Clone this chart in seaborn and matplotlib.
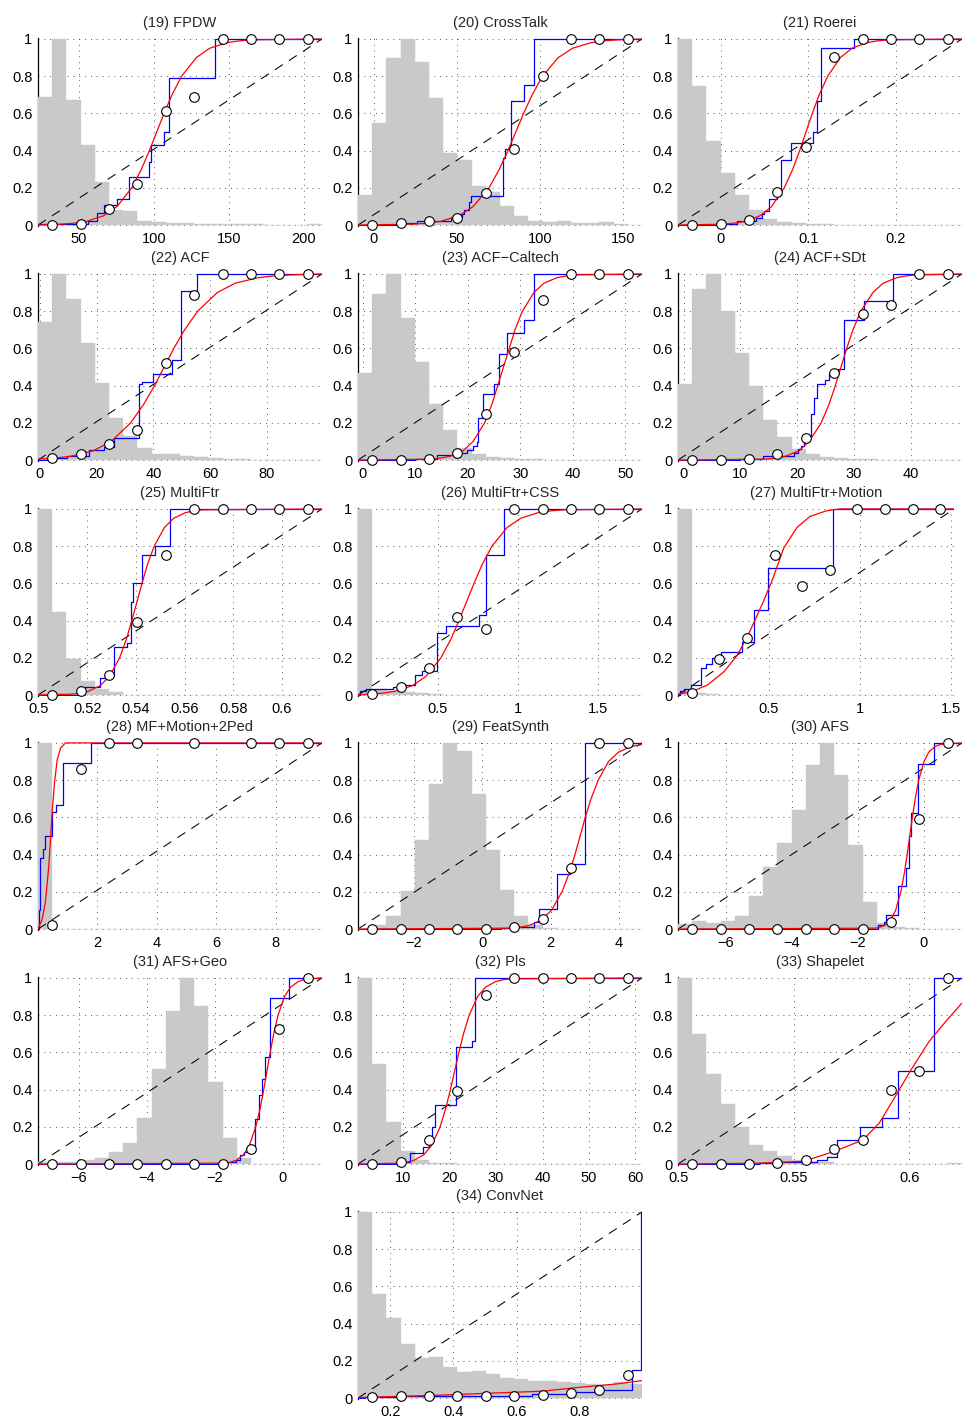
import numpy as np
import pandas as pd
import matplotlib
matplotlib.use("Agg")
import matplotlib.pyplot as plt
import seaborn as sns

# ---------------------------------------------------------------- data
# Levels at which the fitted (red) curve positions are listed.
FIT_LEVELS = [0.0, 0.005, 0.01, 0.02, 0.05, 0.1, 0.2, 0.3, 0.4, 0.5,
              0.6, 0.7, 0.8, 0.9, 0.95, 0.98, 0.99, 0.995, 1.0]

# (19) FPDW
range_19 = [23.0, 212.0]
ticks_19 = [50, 100, 150, 200]
hist_19 = [0.69, 1.0, 0.67, 0.43, 0.23, 0.08, 0.075, 0.02, 0.015, 0.012,
           0.01, 0.008, 0.006, 0.005, 0.004, 0.004, 0.003, 0.003, 0.002, 0.008]
calib_19 = [0.0, 0.005, 0.085, 0.22, 0.615, 0.69, 1.0, 1.0, 1.0, 1.0]
ecdf_x_19 = [23, 56, 62.2, 67.1, 75.6, 83.6, 97.1, 98.4, 106.7, 110, 140.7, 212]
ecdf_y_19 = [0.005, 0.02, 0.065, 0.11, 0.14, 0.26, 0.34, 0.43, 0.5, 0.79, 1.0, 1.0]
fit_x_19 = [23, 38.5, 46.8, 55.3, 66.7, 75.6, 85.4, 91.8, 97.1, 102, 106.9,
            112.2, 118.6, 128.4, 137.3, 148.7, 157.2, 165.5, 212]

# (20) CrossTalk
range_20 = [-9.5, 161.5]
ticks_20 = [0, 50, 100, 150]
hist_20 = [0.16, 0.55, 0.9, 1.0, 0.875, 0.68, 0.385, 0.35, 0.21, 0.18,
           0.1, 0.05, 0.02, 0.015, 0.02, 0.01, 0.01, 0.015, 0.005, 0.003]
calib_20 = [0.0, 0.01, 0.02, 0.04, 0.17, 0.41, 0.8, 1.0, 1.0, 1.0]
ecdf_x_20 = [-9.5, 16, 26.1, 46.2, 53.2, 54.2, 57.2, 58.6, 77.9, 78.9, 82.7, 90.4, 96.4, 161.5]
ecdf_y_20 = [0.0, 0.01, 0.02, 0.045, 0.06, 0.08, 0.125, 0.155, 0.36, 0.41, 0.665, 0.75, 1.0, 1.0]
fit_x_20 = [-9.5, 23.9, 32.0, 40.2, 51.3, 59.9, 69.4, 75.6, 80.8, 85.5, 90.2,
            95.4, 101.6, 111.1, 119.7, 130.8, 139.0, 147.1, 161.5]

# (21) Roerei
range_21 = [-0.0486, 0.2756]
ticks_21 = [0, 0.1, 0.2]
hist_21 = [1.0, 0.745, 0.45, 0.28, 0.16, 0.08, 0.035, 0.015, 0.01, 0.005,
           0.008, 0.003, 0.002, 0.002, 0.002, 0.002, 0.002, 0.002, 0.002, 0.002]
calib_21 = [0.0, 0.005, 0.025, 0.18, 0.42, 0.905, 1.0, 1.0, 1.0, 1.0]
ecdf_x_21 = [-0.0486, 0.0, 0.019, 0.04, 0.0476, 0.0495, 0.0552, 0.0648, 0.0686,
             0.08, 0.1055, 0.1105, 0.1143, 0.1524, 0.2756]
ecdf_y_21 = [0.0, 0.005, 0.02, 0.04, 0.06, 0.075, 0.14, 0.16, 0.35, 0.44, 0.5,
             0.665, 0.95, 1.0, 1.0]
fit_x_21 = [-0.0486, 0.003, 0.0153, 0.028, 0.045, 0.0582, 0.0727, 0.0824, 0.0903,
            0.0975, 0.1047, 0.1126, 0.1223, 0.1368, 0.15, 0.167, 0.1797, 0.192, 0.2756]

# (22) ACF
range_22 = [-0.65, 99.4]
ticks_22 = [0, 20, 40, 60, 80]
hist_22 = [0.74, 1.0, 0.865, 0.63, 0.415, 0.225, 0.13, 0.065, 0.03, 0.035,
           0.02, 0.015, 0.01, 0.008, 0.005, 0.003, 0.003, 0.003, 0.003, 0.003]
calib_22 = [0.01, 0.035, 0.085, 0.16, 0.52, 0.885, 1.0, 1.0, 1.0, 1.0]
ecdf_x_22 = [-0.65, 3.8, 9.6, 17.3, 22.6, 26.1, 34.9, 36.1, 40.0, 46.4, 49.6, 55.5, 99.4]
ecdf_y_22 = [0.0, 0.01, 0.02, 0.055, 0.07, 0.12, 0.41, 0.42, 0.465, 0.54, 0.91, 1.0, 1.0]
fit_x_22 = [-1.5, -1.2, 4.7, 10.7, 18.8, 25.1, 32.0, 36.6, 40.4, 43.8, 47.2,
            51.0, 55.6, 62.5, 68.8, 76.9, 82.9, 88.8, 99.4]

# (23) ACF-Caltech
range_23 = [-0.93, 53.2]
ticks_23 = [0, 10, 20, 30, 40, 50]
hist_23 = [0.47, 0.89, 1.0, 0.765, 0.525, 0.3, 0.16, 0.065, 0.03, 0.015,
           0.01, 0.008, 0.005, 0.003, 0.003, 0.003, 0.003, 0.003, 0.003, 0.003]
calib_23 = [0.0, 0.0, 0.005, 0.04, 0.245, 0.58, 0.86, 1.0, 1.0, 1.0]
ecdf_x_23 = [-0.93, 10.0, 14.2, 18.3, 19.9, 20.9, 21.8, 22.0, 22.9, 25.0, 26.0,
             27.5, 30.7, 32.6, 53.2]
ecdf_y_23 = [0.0, 0.005, 0.025, 0.04, 0.055, 0.075, 0.095, 0.225, 0.355, 0.41,
             0.57, 0.68, 0.75, 1.0, 1.0]
fit_x_23 = [-0.93, 12.9, 14.7, 16.6, 19.1, 21.0, 23.2, 24.6, 25.7, 26.8, 27.9,
            29.0, 30.4, 32.6, 34.5, 37.0, 38.9, 40.7, 53.2]

# (24) ACF+SDt
range_24 = [-1.0, 49.0]
ticks_24 = [0, 10, 20, 30, 40]
hist_24 = [0.41, 0.92, 1.0, 0.8, 0.575, 0.4, 0.215, 0.125, 0.062, 0.035,
           0.015, 0.01, 0.008, 0.005, 0.003, 0.003, 0.003, 0.003, 0.003, 0.003]
calib_24 = [0.0, 0.0, 0.005, 0.03, 0.12, 0.47, 0.785, 0.835, 1.0, 1.0]
ecdf_x_24 = [-1.0, 10.0, 13.9, 19.5, 20.1, 20.6, 21.2, 22.1, 22.4, 22.9, 23.5,
             24.9, 25.6, 27.1, 28.2, 31.8, 36.8, 49.0]
ecdf_y_24 = [0.0, 0.005, 0.02, 0.04, 0.06, 0.075, 0.1, 0.13, 0.25, 0.335, 0.41,
             0.43, 0.465, 0.49, 0.75, 0.855, 1.0, 1.0]
fit_x_24 = [-1.0, 14.3, 16.1, 17.9, 20.3, 22.1, 24.2, 25.6, 26.7, 27.7, 28.7,
            29.8, 31.2, 33.3, 35.1, 37.5, 39.3, 41.1, 49.0]

# (25) MultiFtr
range_25 = [0.4998, 0.6164]
ticks_25 = [0.5, 0.52, 0.54, 0.56, 0.58, 0.6]
hist_25 = [1.0, 0.445, 0.195, 0.075, 0.03, 0.015, 0.002, 0.002, 0.002, 0.002,
           0.002, 0.002, 0.002, 0.002, 0.002, 0.002, 0.002, 0.002, 0.002, 0.002]
calib_25 = [0.0, 0.02, 0.11, 0.39, 0.755, 1.0, 1.0, 1.0, 1.0, 1.0]
ecdf_x_25 = [0.4998, 0.5171, 0.5192, 0.5251, 0.5278, 0.5308, 0.5363, 0.5381,
             0.5386, 0.5427, 0.548, 0.5541, 0.6164]
ecdf_y_25 = [0.0, 0.02, 0.045, 0.09, 0.105, 0.26, 0.28, 0.5, 0.6, 0.75, 0.8, 1.0, 1.0]
fit_x_25 = [0.4998, 0.5133, 0.5168, 0.5204, 0.5253, 0.5291, 0.5333, 0.5361, 0.5383,
            0.5404, 0.5425, 0.5447, 0.5475, 0.5517, 0.5555, 0.5604, 0.5640, 0.5675, 0.6164]

# (26) MultiFtr+CSS
range_26 = [0.002, 1.772]
ticks_26 = [0.5, 1, 1.5]
hist_26 = [1.0, 0.03, 0.02, 0.015, 0.01, 0.005, 0.002, 0.002, 0.002, 0.002,
           0.002, 0.002, 0.002, 0.002, 0.002, 0.002, 0.002, 0.002, 0.002, 0.002]
calib_26 = [0.005, 0.045, 0.145, 0.42, 0.355, 1.0, 1.0, 1.0, 1.0, 1.0]
ecdf_x_26 = [0.002, 0.013, 0.05, 0.22, 0.267, 0.357, 0.398, 0.496, 0.548, 0.756,
             0.797, 0.912, 1.772]
ecdf_y_26 = [0.0, 0.02, 0.035, 0.045, 0.055, 0.11, 0.13, 0.335, 0.37, 0.43, 0.75, 1.0, 1.0]
fit_x_26 = [0.002, 0.07, 0.149, 0.231, 0.34, 0.425, 0.519, 0.581, 0.631, 0.678,
            0.725, 0.775, 0.837, 0.931, 1.016, 1.125, 1.207, 1.286, 1.772]

# (27) MultiFtr+Motion
range_27 = [0.0024, 1.515]
ticks_27 = [0.5, 1, 1.5]
hist_27 = [1.0, 0.012, 0.006, 0.003, 0.002, 0.002, 0.002, 0.002, 0.002, 0.002,
           0.002, 0.002, 0.002, 0.002, 0.002, 0.002, 0.002, 0.002, 0.002, 0.002]
calib_27 = [0.01, 0.195, 0.305, 0.75, 0.585, 0.67, 1.0, 1.0, 1.0, 1.0]
ecdf_x_27 = [0.0024, 0.016, 0.034, 0.071, 0.129, 0.156, 0.188, 0.237, 0.355,
             0.418, 0.496, 0.85, 1.515]
ecdf_y_27 = [0.0, 0.02, 0.035, 0.055, 0.145, 0.165, 0.2, 0.23, 0.285, 0.455, 0.68, 1.0, 1.0]
fit_x_27 = [0.0024, 0.078, 0.165, 0.255, 0.328, 0.382, 0.428, 0.469, 0.518,
            0.582, 0.654, 0.726, 0.817, 0.89, 1.515]
fit_y_27 = [0.005, 0.018, 0.055, 0.126, 0.215, 0.313, 0.41, 0.5, 0.615,
            0.79, 0.9, 0.96, 0.99, 1.0, 1.0]

# (28) MF+Motion+2Ped
range_28 = [0.009, 9.55]
ticks_28 = [2, 4, 6, 8]
hist_28 = [1.0, 0.002, 0.002, 0.002, 0.002, 0.002, 0.002, 0.002, 0.002, 0.002,
           0.002, 0.002, 0.002, 0.002, 0.002, 0.002, 0.002, 0.002, 0.002, 0.002]
calib_28 = [0.02, 0.86, 1.0, 1.0, np.nan, 1.0, np.nan, 1.0, 1.0, 1.0]
ecdf_x_28 = [0.009, 0.04, 0.06, 0.08, 0.18, 0.26, 0.49, 0.6, 0.85, 1.8, 9.55]
ecdf_y_28 = [0.0, 0.1, 0.24, 0.38, 0.43, 0.5, 0.63, 0.665, 0.89, 1.0, 1.0]
fit_x_28 = [0.009, 0.15, 0.262, 0.374, 0.43, 0.486, 0.565, 0.655, 0.767, 0.935, 9.55]
fit_y_28 = [0.0, 0.053, 0.15, 0.345, 0.487, 0.63, 0.79, 0.91, 0.973, 1.0, 1.0]

# (29) FeatSynth
range_29 = [-3.635, 4.67]
ticks_29 = [-2, 0, 2, 4]
hist_29 = [0.003, 0.02, 0.07, 0.205, 0.48, 0.78, 1.0, 0.955, 0.725, 0.425,
           0.21, 0.07, 0.02, 0.005, 0.0, 0.0, 0.0, 0.0, 0.0, 0.0]
calib_29 = [0.0, 0.0, 0.0, 0.0, 0.0, 0.012, 0.055, 0.33, 1.0, 1.0]
ecdf_x_29 = [-3.635, 0.54, 0.98, 1.5, 1.66, 2.18, 2.55, 3.0, 4.67]
ecdf_y_29 = [0.0, 0.005, 0.012, 0.04, 0.11, 0.295, 0.35, 1.0, 1.0]
fit_x_29 = [-3.635, 0.85, 1.11, 1.38, 1.74, 2.02, 2.33, 2.54, 2.71, 2.86, 3.01,
            3.18, 3.39, 3.69, 3.98, 4.34, 4.61, 4.87, 5.0]

# (30) AFS
range_30 = [-7.44, 1.15]
ticks_30 = [-6, -4, -2, 0]
hist_30 = [0.025, 0.045, 0.03, 0.045, 0.07, 0.175, 0.335, 0.465, 0.64, 0.88,
           1.0, 0.83, 0.45, 0.145, 0.03, 0.01, 0.005, 0.0, 0.0, 0.0]
calib_30 = [0.0, 0.0, 0.0, 0.0, 0.0, 0.0, 0.0, 0.04, 0.59, 1.0]
ecdf_x_30 = [-7.44, -1.4, -1.2, -1.15, -0.8, -0.545, -0.44, -0.39, -0.19, 0.31, 1.15]
ecdf_y_30 = [0.0, 0.02, 0.04, 0.075, 0.23, 0.33, 0.5, 0.625, 0.885, 1.0, 1.0]
fit_x_30 = [-7.44, -1.46, -1.33, -1.19, -1.0, -0.86, -0.70, -0.595, -0.509, -0.43,
            -0.351, -0.265, -0.16, 0.0, 0.143, 0.329, 0.467, 0.602, 1.15]

# (31) AFS+Geo
range_31 = [-7.2, 1.16]
ticks_31 = [-6, -4, -2, 0]
hist_31 = [0.01, 0.01, 0.012, 0.02, 0.035, 0.065, 0.115, 0.25, 0.51, 0.82,
           1.0, 0.85, 0.44, 0.14, 0.03, 0.003, 0.0, 0.0, 0.0, 0.0]
calib_31 = [0.0, 0.0, 0.0, 0.0, 0.0, 0.0, 0.0, 0.08, 0.725, 1.0]
ecdf_x_31 = [-7.2, -1.69, -1.36, -1.24, -1.15, -0.82, -0.69, -0.6, -0.51, -0.38, 0.18, 1.16]
ecdf_y_31 = [0.0, 0.01, 0.02, 0.05, 0.065, 0.24, 0.37, 0.455, 0.575, 0.89, 1.0, 1.0]
fit_x_31 = [-7.2, -1.70, -1.54, -1.37, -1.15, -0.98, -0.79, -0.66, -0.555, -0.46,
            -0.365, -0.261, -0.134, 0.056, 0.232, 0.454, 0.621, 0.783, 1.16]

# (32) Pls
range_32 = [0.31, 61.4]
ticks_32 = [10, 20, 30, 40, 50, 60]
hist_32 = [1.0, 0.54, 0.225, 0.07, 0.02, 0.008, 0.005, 0.002, 0.002, 0.002,
           0.002, 0.002, 0.002, 0.002, 0.002, 0.002, 0.002, 0.002, 0.002, 0.002]
calib_32 = [0.0, 0.01, 0.13, 0.39, 0.91, 1.0, 1.0, 1.0, 1.0, 1.0]
ecdf_x_32 = [0.31, 9.8, 11.6, 14.2, 15.6, 16.2, 16.9, 21.3, 24.9, 25.5, 61.4]
ecdf_y_32 = [0.0, 0.01, 0.06, 0.09, 0.13, 0.2, 0.32, 0.63, 0.66, 1.0, 1.0]
fit_x_32 = [0.31, 9.2, 10.75, 12.35, 14.48, 16.15, 17.98, 19.19, 20.19, 21.1,
            22.01, 23.01, 24.22, 26.04, 27.72, 29.85, 31.45, 33.0, 61.4]

# (33) Shapelet
range_33 = [0.4998, 0.6229]
ticks_33 = [0.5, 0.55, 0.6]
hist_33 = [1.0, 0.7, 0.485, 0.325, 0.2, 0.105, 0.07, 0.045, 0.02, 0.01,
           0.01, 0.003, 0.003, 0.003, 0.003, 0.003, 0.003, 0.003, 0.003, 0.005]
calib_33 = [0.0, 0.0, 0.0, 0.005, 0.02, 0.08, 0.13, 0.4, 0.5, 1.0]
ecdf_x_33 = [0.4998, 0.535, 0.5435, 0.56, 0.5645, 0.5688, 0.5788, 0.5883, 0.5951, 0.6106, 0.6229]
ecdf_y_33 = [0.0, 0.005, 0.01, 0.02, 0.04, 0.13, 0.2, 0.25, 0.5, 1.0, 1.0]
fit_x_33 = [0.4998, 0.535, 0.5543, 0.568, 0.58, 0.587, 0.5924, 0.6005, 0.6087, 0.6168, 0.6229]
fit_y_33 = [0.0, 0.005, 0.015, 0.07, 0.13, 0.22, 0.33, 0.5, 0.66, 0.78, 0.865]

# (34) ConvNet
range_34 = [0.0986, 0.9966]
ticks_34 = [0.2, 0.4, 0.6, 0.8]
hist_34 = [1.0, 0.56, 0.43, 0.29, 0.215, 0.22, 0.165, 0.14, 0.145, 0.13,
           0.11, 0.1, 0.09, 0.09, 0.085, 0.08, 0.075, 0.07, 0.085, 0.076]
calib_34 = [0.005, 0.012, 0.01, 0.012, 0.012, 0.01, 0.017, 0.025, 0.045, 0.125]
ecdf_x_34 = [0.0986, 0.12, 0.235, 0.45, 0.65, 0.78, 0.87, 0.965, 0.994, 0.9966]
ecdf_y_34 = [0.0, 0.005, 0.01, 0.012, 0.02, 0.03, 0.045, 0.15, 1.0, 1.0]
fit_x_34 = [0.0986, 0.332, 0.527, 0.683, 0.8, 0.917, 0.9966]
fit_y_34 = [0.003, 0.014, 0.027, 0.037, 0.058, 0.076, 0.094]


def panel(title, xr, ticks, hist, calib, ex, ey, fx, fy=FIT_LEVELS, width=284):
    return dict(title=title, xr=xr, ticks=ticks, hist=hist, calib=calib,
                ecdf_x=ex, ecdf_y=ey, fit_x=fx, fit_y=fy, width=width)


panels = [
    panel("(19) FPDW", range_19, ticks_19, hist_19, calib_19, ecdf_x_19, ecdf_y_19, fit_x_19),
    panel("(20) CrossTalk", range_20, ticks_20, hist_20, calib_20, ecdf_x_20, ecdf_y_20, fit_x_20),
    panel("(21) Roerei", range_21, ticks_21, hist_21, calib_21, ecdf_x_21, ecdf_y_21, fit_x_21),
    panel("(22) ACF", range_22, ticks_22, hist_22, calib_22, ecdf_x_22, ecdf_y_22, fit_x_22),
    panel("(23) ACF\u2212Caltech", range_23, ticks_23, hist_23, calib_23, ecdf_x_23, ecdf_y_23, fit_x_23),
    panel("(24) ACF+SDt", range_24, ticks_24, hist_24, calib_24, ecdf_x_24, ecdf_y_24, fit_x_24),
    panel("(25) MultiFtr", range_25, ticks_25, hist_25, calib_25, ecdf_x_25, ecdf_y_25, fit_x_25),
    panel("(26) MultiFtr+CSS", range_26, ticks_26, hist_26, calib_26, ecdf_x_26, ecdf_y_26, fit_x_26),
    panel("(27) MultiFtr+Motion", range_27, ticks_27, hist_27, calib_27, ecdf_x_27, ecdf_y_27, fit_x_27,
          fit_y_27, width=276),
    panel("(28) MF+Motion+2Ped", range_28, ticks_28, hist_28, calib_28, ecdf_x_28, ecdf_y_28, fit_x_28, fit_y_28),
    panel("(29) FeatSynth", range_29, ticks_29, hist_29, calib_29, ecdf_x_29, ecdf_y_29, fit_x_29),
    panel("(30) AFS", range_30, ticks_30, hist_30, calib_30, ecdf_x_30, ecdf_y_30, fit_x_30),
    panel("(31) AFS+Geo", range_31, ticks_31, hist_31, calib_31, ecdf_x_31, ecdf_y_31, fit_x_31),
    panel("(32) Pls", range_32, ticks_32, hist_32, calib_32, ecdf_x_32, ecdf_y_32, fit_x_32),
    panel("(33) Shapelet", range_33, ticks_33, hist_33, calib_33, ecdf_x_33, ecdf_y_33, fit_x_33, fit_y_33),
    panel("(34) ConvNet", range_34, ticks_34, hist_34, calib_34, ecdf_x_34, ecdf_y_34, fit_x_34, fit_y_34),
]

# ---------------------------------------------------------------- style
sns.set_style("white")
plt.rcParams["font.family"] = ["Liberation Sans", "DejaVu Sans"]
plt.rcParams["axes.unicode_minus"] = True

FIG_W, FIG_H = 965, 1416
COL_LEFT = [38, 358, 678]
ROW_TOP = [38, 273, 508, 742, 977, 1211]
AX_H = 188
slots = [(r, c) for r in range(5) for c in range(3)] + [(5, 1)]

HIST_GRAY = "#c9c9c9"
FS = 10.5


def fmt(v):
    return format(v, "g").replace("-", "\u2212")


fig = plt.figure(figsize=(FIG_W / 100, FIG_H / 100), dpi=100)
fig.patch.set_facecolor("white")

for p, (r, c) in zip(panels, slots):
    ax = fig.add_axes([COL_LEFT[c] / FIG_W, 1 - (ROW_TOP[r] + AX_H) / FIG_H,
                       p["width"] / FIG_W, AX_H / FIG_H])
    xmin, xmax = p["xr"]

    # score histogram, scaled so the tallest bin reaches 1
    nb = len(p["hist"])
    edges = np.linspace(xmin, xmax, nb + 1)
    hdf = pd.DataFrame({"score": 0.5 * (edges[:-1] + edges[1:]),
                        "w": p["hist"]})
    sns.histplot(data=hdf, x="score", weights="w", bins=nb,
                 binrange=(xmin, xmax), color=HIST_GRAY, alpha=1,
                 edgecolor=HIST_GRAY, linewidth=0.3, ax=ax, zorder=3)

    # diagonal reference
    ax.plot([xmin, xmax], [0, 1], color="black", lw=0.75,
            linestyle=(0, (9, 7)), zorder=3.5)

    # empirical step curve
    sns.lineplot(x=p["ecdf_x"], y=p["ecdf_y"], drawstyle="steps-post",
                 estimator=None, sort=False, color="#0000ff", linewidth=0.9,
                 ax=ax, zorder=4)

    # fitted curve
    fy = p["fit_y"][:len(p["fit_x"])]
    sns.lineplot(x=p["fit_x"], y=fy, estimator=None, sort=False,
                 color="#ff0000", linewidth=0.9, ax=ax, zorder=5)

    # binned calibration points
    cedges = np.linspace(xmin, xmax, len(p["calib"]) + 1)
    cdf = pd.DataFrame({"score": 0.5 * (cedges[:-1] + cedges[1:]),
                        "frac": p["calib"]}).dropna()
    sns.scatterplot(data=cdf, x="score", y="frac", s=48, color="white",
                    edgecolor="black", linewidth=0.8, ax=ax, zorder=6,
                    legend=False, clip_on=False)

    ax.set_xlim(xmin, xmax)
    ax.set_ylim(-0.005, 1.005)
    ax.set_xticks(p["ticks"])
    ax.set_xticklabels([fmt(t) for t in p["ticks"]])
    yt = [0, 0.2, 0.4, 0.6, 0.8, 1]
    ax.set_yticks(yt)
    ax.set_yticklabels([fmt(t) for t in yt])
    ax.set_xlabel("")
    ax.set_ylabel("")
    ax.tick_params(length=0, labelsize=FS, pad=4, colors="black")

    ax.grid(True, color="#222222", linewidth=0.6, linestyle=(0, (1, 6)))
    ax.set_axisbelow(True)
    for side in ("top", "right", "bottom"):
        ax.spines[side].set_visible(False)
    ax.spines["left"].set_color("black")
    ax.spines["left"].set_linewidth(0.9)
    ax.spines["left"].set_zorder(2.5)
    ax.set_facecolor("none")

    ax.set_title(p["title"], fontsize=FS, pad=8)

fig.savefig("out.png", dpi=100, facecolor="white")
